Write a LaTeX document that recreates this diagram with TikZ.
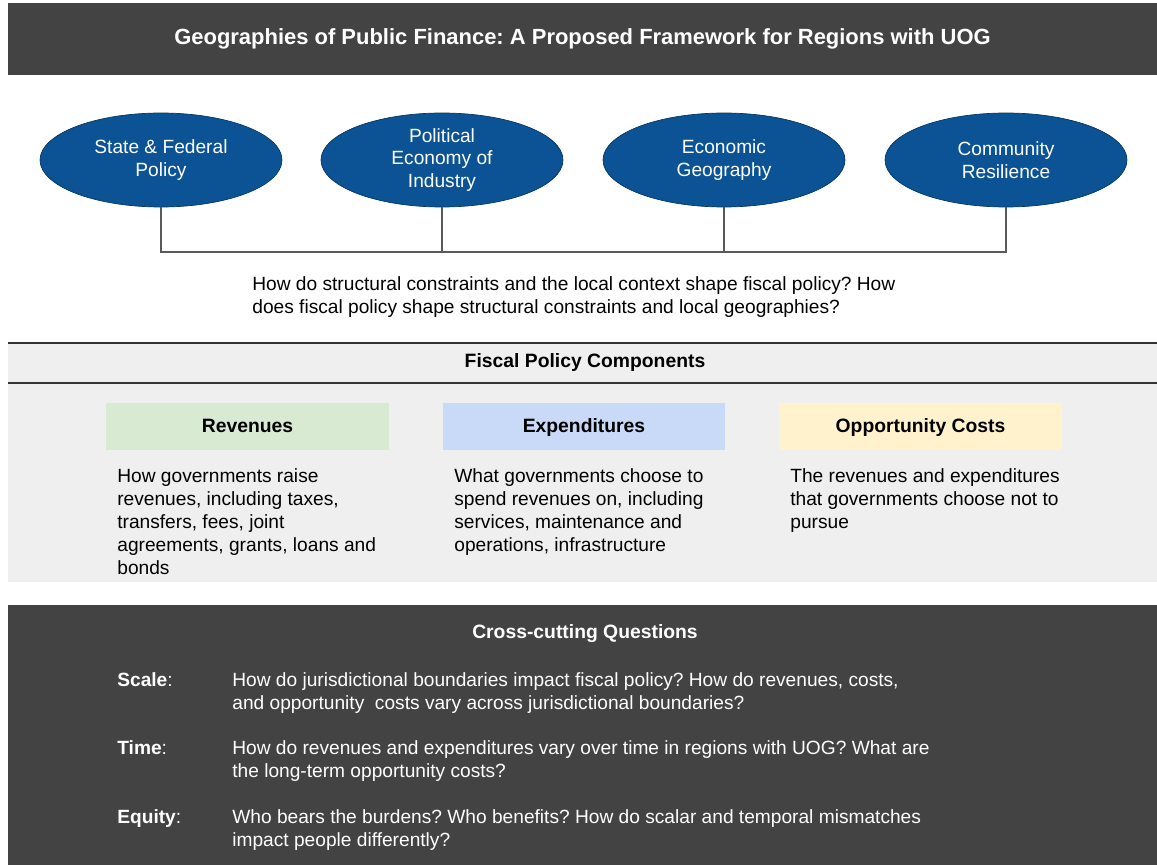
\documentclass[tikz,border=0pt]{standalone}
\usepackage{fontspec}
\setmainfont{Liberation Sans}
\usepackage{tikz}
\usetikzlibrary{calc}
\usetikzlibrary{shapes}
\frenchspacing

\definecolor{barGray}{HTML}{434343}
\definecolor{panelGray}{HTML}{EFEFEF}
\definecolor{blueFill}{HTML}{0B5394}
\definecolor{blueEdge}{HTML}{073763}
\definecolor{linkGray}{HTML}{595959}
\definecolor{revGreen}{HTML}{D9EAD3}
\definecolor{expBlue}{HTML}{C9DAF8}
\definecolor{oppYellow}{HTML}{FFF2CC}

\begin{document}
\begin{tikzpicture}[x=0.02cm, y=-0.02cm, font=\fontsize{10.9}{13}\selectfont,
        bar_style/.style={fill=barGray, text=white, font=\fontsize{12.5}{15}\selectfont\bfseries, inner sep=0pt},
        ellipse_style/.style={ellipse, draw=blueEdge, fill=blueFill, text=white, minimum width=4.84cm, minimum height=1.88cm, inner sep=0pt, align=center},
        link_style/.style={draw=linkGray, line width=0.9pt},
        rule_style/.style={draw=black!80, line width=0.8pt},
        head_style/.style={minimum width=5.66cm, minimum height=0.94cm, inner sep=0pt, text height=1.6ex, text depth=0.4ex, font=\fontsize{11}{13}\selectfont\bfseries},
        title_style/.style={inner sep=0pt, font=\fontsize{11}{13}\selectfont\bfseries},
        body_style/.style={anchor=base west, inner sep=0pt, align=left},
        light_style/.style={anchor=base west, inner sep=0pt, align=left, text=white}]

        \useasboundingbox (0,0) rectangle (1157,865);
        \fill[white] (0,0) rectangle (1157,865);

        % title bar
        \node [bar_style, minimum width=22.98cm, minimum height=1.44cm](title) at (582.5,39) {Geographies of Public Finance: A Proposed Framework for Regions with UOG};

        % context ellipses
        \node [ellipse_style](policy) at (161,160) {State \& Federal\\Policy};

        \node [ellipse_style](industry) at (442,160) {Political\\Economy of\\Industry};

        \node [ellipse_style](economic) at (724,160) {Economic\\Geography};

        \node [ellipse_style](resilience) at (1006,160) {Community\\Resilience};

        \coordinate (bus) at (0,252);

        \draw [link_style] (policy.south) -- (policy.south |- bus) -| (resilience.south);

        \draw [link_style] (industry.south) -- (industry.south |- bus);

        \draw [link_style] (economic.south) -- (economic.south |- bus);

        % base anchor sits on the last line
        \node [body_style](question) at (252,313) {How do structural constraints and the local context shape fiscal policy? How\\does fiscal policy shape structural constraints and local geographies?};

        % fiscal policy components
        \fill [panelGray] (8,343) rectangle (1157,582);
        \draw [rule_style] (8,343) -- (1157,343);
        \draw [rule_style] (8,383) -- (1157,383);

        \node [title_style](fiscal) at (585,363) {Fiscal Policy Components};

        \node [head_style, fill=revGreen](revenues) at (247.5,426.5) {Revenues};

        \node [head_style, fill=expBlue](expenditures) at (584,426.5) {Expenditures};

        \node [head_style, fill=oppYellow](opportunity) at (920.5,426.5) {Opportunity Costs};

        \node [body_style](revtext) at (117,574) {How governments raise\\revenues, including taxes,\\transfers, fees, joint\\agreements, grants, loans and\\bonds};

        \node [body_style](exptext) at (454,551) {What governments choose to\\spend revenues on, including\\services, maintenance and\\operations, infrastructure};

        \node [body_style](opptext) at (790,528) {The revenues and expenditures\\that governments choose not to\\pursue};

        % cross-cutting questions
        \fill [barGray] (8,605) rectangle (1157,865);

        \node [title_style, text=white](cross) at (585,634) {Cross-cutting Questions};

        \node [light_style](scale) at (117,686) {\textbf{Scale}:};
        \node [light_style](scaletext) at (232,709) {How do jurisdictional boundaries impact fiscal policy? How do revenues, costs,\\and opportunity\ \ costs vary across jurisdictional boundaries?};

        \node [light_style](time) at (117,754) {\textbf{Time}:};
        \node [light_style](timetext) at (232,777) {How do revenues and expenditures vary over time in regions with UOG? What are\\the long-term opportunity costs?};

        \node [light_style](equity) at (117,823) {\textbf{Equity}:};
        \node [light_style](equitytext) at (232,846) {Who bears the burdens? Who benefits? How do scalar and temporal mismatches\\impact people differently?};

        \end{tikzpicture}
\end{document}
